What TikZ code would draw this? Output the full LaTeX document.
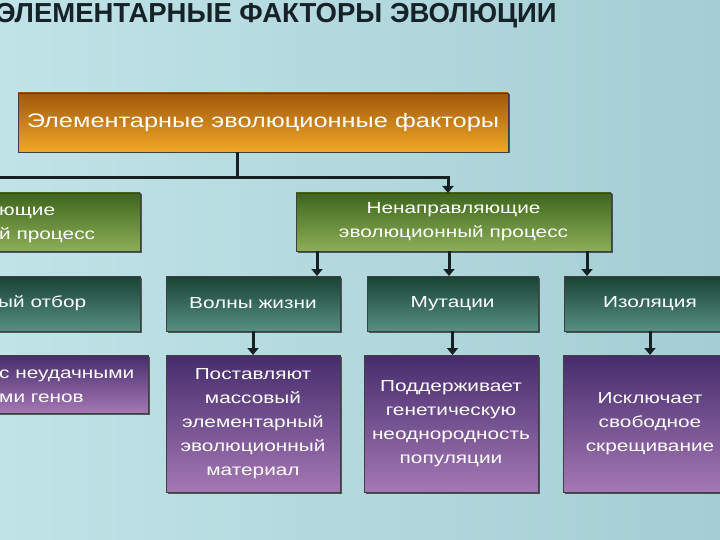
\documentclass[tikz,border=0pt]{standalone}
\usepackage{fontspec}
\setmainfont{Liberation Sans}
\newfontfamily\widefont[FakeStretch=1.3]{Liberation Sans}
\usepackage{tikz}
\usetikzlibrary{shapes.geometric, arrows}
\usetikzlibrary{arrows.meta, shadows}
\definecolor{bgL}{RGB}{192,227,231}
\definecolor{bgM}{RGB}{232,236,239}
\definecolor{bgR}{RGB}{164,206,212}
\definecolor{orTop}{RGB}{160,88,12}
\definecolor{orBot}{RGB}{242,168,38}
\definecolor{grTop}{RGB}{62,102,28}
\definecolor{grBot}{RGB}{140,174,88}
\definecolor{tlTop}{RGB}{24,66,52}
\definecolor{tlBot}{RGB}{86,144,130}
\definecolor{puTop}{RGB}{70,44,108}
\definecolor{puBot}{RGB}{164,120,180}
\definecolor{lineclr}{RGB}{22,32,34}
\definecolor{titleclr}{RGB}{22,34,40}
\tikzstyle{box} = [rectangle, inner sep=0pt, outer sep=0pt, text=white, align=center, font=\widefont\fontsize{16}{24}\selectfont, draw=black!75, line width=0.8pt, drop shadow={shadow xshift=1.5pt, shadow yshift=-1.5pt, opacity=0.6, fill=black}]
\tikzstyle{orangebox} = [box, top color=orTop, bottom color=orBot]
\tikzstyle{greenbox} = [box, top color=grTop, bottom color=grBot]
\tikzstyle{tealbox} = [box, top color=tlTop, bottom color=tlBot]
\tikzstyle{purplebox} = [box, top color=puTop, bottom color=puBot]
\tikzstyle{boxtext} = [inner sep=0pt, text=white, align=left, font=\widefont\fontsize{16}{24}\selectfont]
\tikzstyle{line} = [line width=3pt, draw=lineclr]
\tikzstyle{arrow} = [line, -{Triangle[width=11pt,length=7pt]}]

\begin{document}
\begin{tikzpicture}[x=1pt, y=-1pt]
\useasboundingbox (0,0) rectangle (720,540);
\clip (0,0) rectangle (720,540);
\shade[left color=bgL, middle color=bgM, right color=bgR] (0,0) rectangle (720,540);

\node[anchor=base west, inner sep=0pt, text=titleclr, font=\bfseries\fontsize{27.5}{30}\selectfont] (title) at (-4,23) {ЭЛЕМЕНТАРНЫЕ ФАКТОРЫ ЭВОЛЮЦИИ};

\node[orangebox, minimum width=490pt, minimum height=59pt, font=\widefont\fontsize{19.5}{24}\selectfont] (factors) at (263,122.5) {Элементарные эволюционные факторы};

% second row
\node[greenbox, minimum width=180pt, minimum height=58pt] (directed) at (50,222) {};
\node[boxtext] (directedtxt) at (-1,225) [anchor=west] {ющие\\й процесс};
\node[greenbox, minimum width=315pt, minimum height=58pt] (undirected) at (453.5,222) {Ненаправляющие\\эволюционный процесс};

% third row
\node[tealbox, minimum width=180pt, minimum height=55pt] (selection) at (50,303.5) {};
\node[boxtext] (selectiontxt) at (-2,303.5) [anchor=west] {ый отбор};
\node[tealbox, minimum width=174pt, minimum height=55pt] (waves) at (253,303.5) {Волны жизни};
\node[tealbox, minimum width=171pt, minimum height=55pt] (mutations) at (452.5,303.5) {Мутации};
\node[tealbox, minimum width=172pt, minimum height=55pt] (isolation) at (650,303.5) {Изоляция};

% fourth row
\node[purplebox, minimum width=178pt, minimum height=58pt] (selectionnote) at (59,384) {};
\node[boxtext] (selectionnotetxt) at (-1,386.5) [anchor=west] {с неудачными\\ми генов};
\node[purplebox, minimum width=174pt, minimum height=137pt] (wavesnote) at (253,423.5) {Поставляют\\массовый\\элементарный\\эволюционный\\материал};
\node[purplebox, minimum width=174pt, minimum height=137pt] (mutationsnote) at (451,423.5) {Поддерживает\\генетическую\\неоднородность\\популяции};
\node[purplebox, minimum width=173pt, minimum height=137pt] (isolationnote) at (650,423.5) {Исключает\\свободное\\скрещивание};

% connectors
\coordinate (edge) at (0,178);
\coordinate (join) at (237,178);
\coordinate (split) at (448,178);
\draw[line] (join |- factors.south) -- (join);
\draw[arrow] (edge) -- (split) -- (split |- undirected.north);
\draw[arrow] ([xshift=21pt]undirected.south west) -- ([xshift=21pt]undirected.south west |- waves.north);
\draw[arrow] ([xshift=153pt]undirected.south west) -- ([xshift=153pt]undirected.south west |- mutations.north);
\draw[arrow] ([xshift=291pt]undirected.south west) -- ([xshift=291pt]undirected.south west |- isolation.north);
\draw[arrow] (waves.south) -- (wavesnote.north);
\draw[arrow] (mutations.south) -- (mutations.south |- mutationsnote.north);
\draw[arrow] (isolation.south) -- (isolationnote.north);
\end{tikzpicture}
\end{document}
